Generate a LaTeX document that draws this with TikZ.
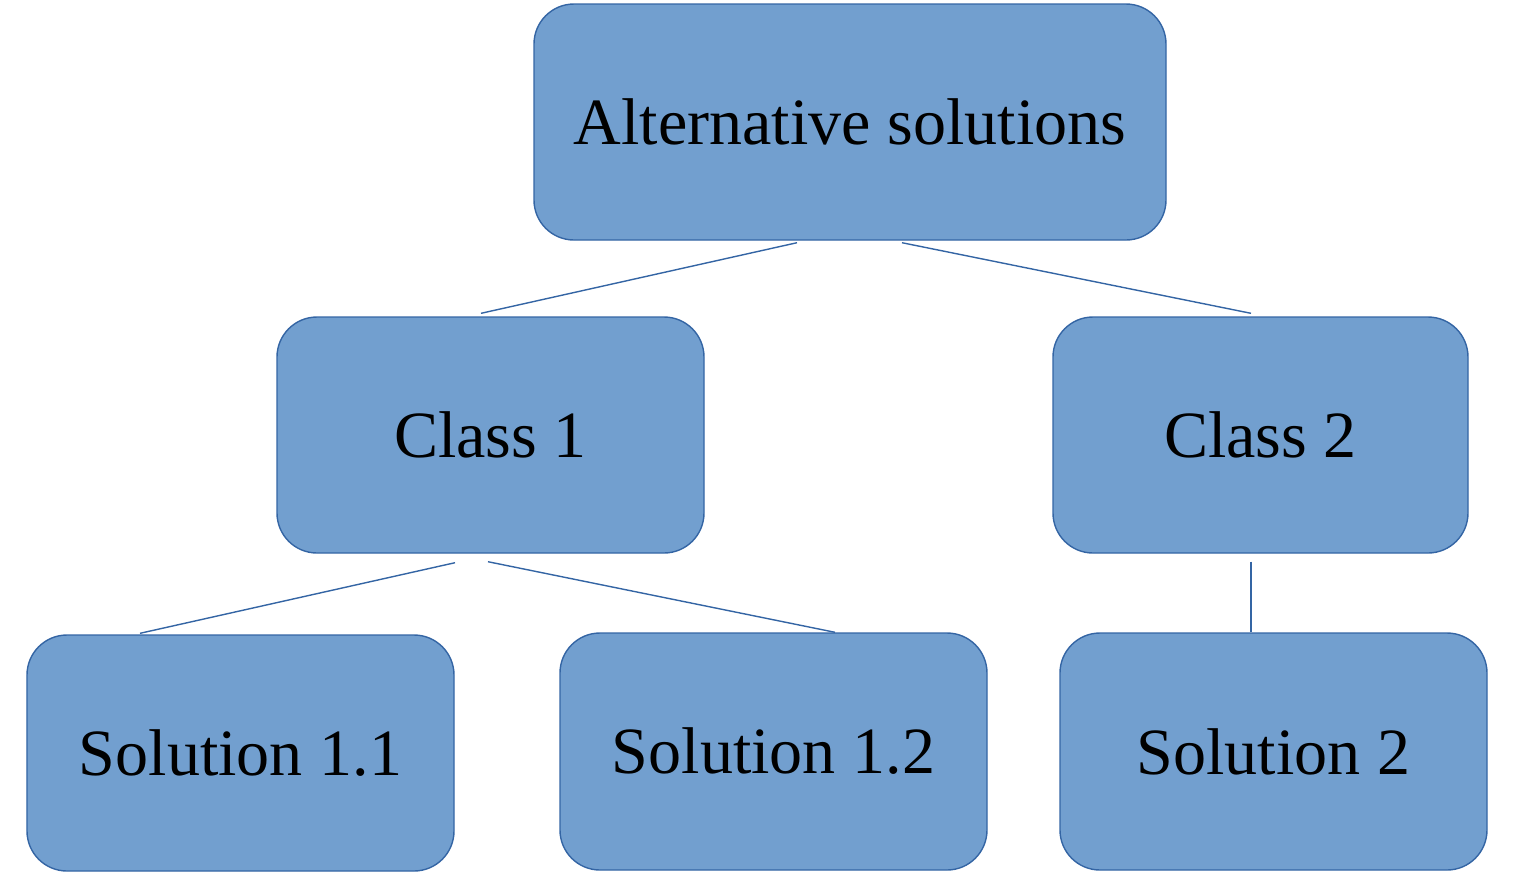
\documentclass[tikz,border=0pt]{standalone}
\usepackage{fontspec}
\setmainfont{Liberation Serif}
\usetikzlibrary{calc}
\definecolor{boxfill}{HTML}{729FCF}
\definecolor{boxline}{HTML}{3465A4}
\begin{document}
\begin{tikzpicture}[box/.style={rectangle, rounded corners=4mm, draw=boxline, line width=0.4pt, fill=boxfill, minimum height=23.6mm, font=\fontsize{18.8}{22}\selectfont, inner sep=0pt},
	link/.style={draw=boxline, line width=0.4pt}]
\useasboundingbox (0,0) rectangle (15.2,-8.82);
\node [box, minimum width=63.2mm] (root) at (8.50,-1.22) {Alternative solutions};
\node [box, minimum width=42.7mm] (c1) at (4.905,-4.35) {Class 1};
\node [box, minimum width=41.5mm] (c2) at (12.605,-4.35) {Class 2};
\node [box, minimum width=42.7mm] (s11) at (2.405,-7.53) {Solution 1.1};
\node [box, minimum width=42.7mm, minimum height=23.7mm] (s12) at (7.735,-7.515) {Solution 1.2};
\node [box, minimum width=42.7mm, minimum height=23.7mm] (s2) at (12.735,-7.515) {Solution 2};
% connectors
\draw [link] ($(root.south)+(-0.53,-0.02)$) -- ($(c1.north)+(-0.095,0.03)$);
\draw [link] ($(root.south)+(0.52,-0.02)$) -- ($(c2.north)+(-0.095,0.03)$);
\draw [link] ($(c1.south)+(-0.355,-0.09)$) -- ($(s11.north)+(-1.005,0.01)$);
\draw [link] ($(c1.south)+(-0.025,-0.08)$) -- ($(s12.north)+(0.615,0)$);
\draw [link] ($(c2.south)+(-0.095,-0.08)$) -- ($(s2.north)+(-0.225,0)$);
\end{tikzpicture}
\end{document}
